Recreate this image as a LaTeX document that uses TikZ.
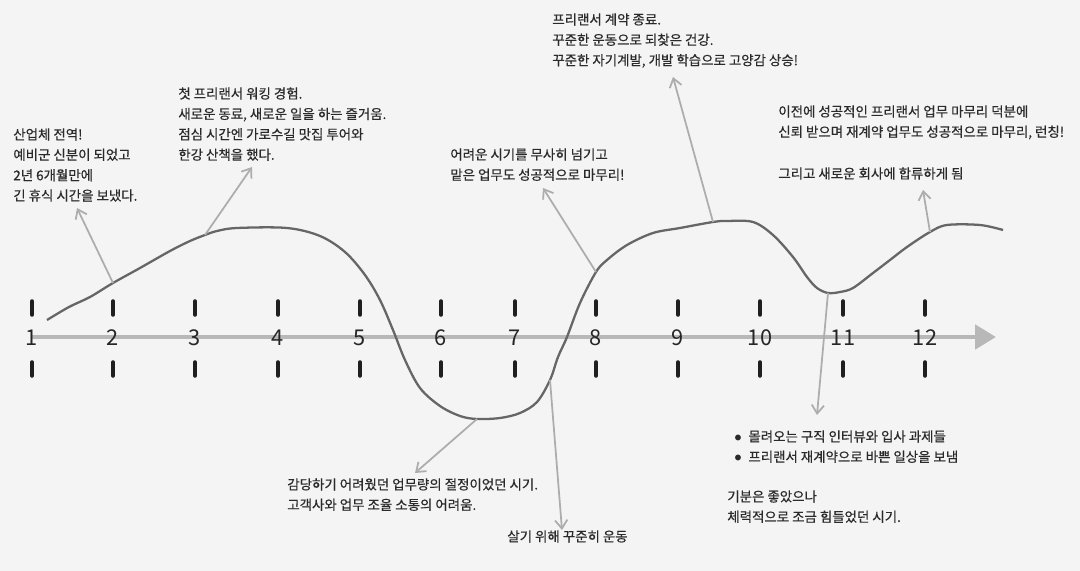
\documentclass[tikz,border=0pt]{standalone}
\usepackage{fontspec}
\setmainfont{Noto Sans CJK KR}
\newfontfamily\notefont{Noto Sans CJK KR}[FakeBold=0.5]
\usepackage{tikz}
\usetikzlibrary{arrows.meta}
\definecolor{paper}{HTML}{F4F4F4}
\definecolor{inkgray}{HTML}{2A2A2A}
\colorlet{curvegray}{black!60}
\colorlet{pointgray}{black!32}
\colorlet{axisgray}{black!28}

\begin{document}
\begin{tikzpicture}[x=0.02cm, y=-0.02cm, >={Straight Barb[length=4.8pt,width=7pt]},
    note/.style={anchor=north west, inner sep=0pt, align=left, text=inkgray,
      font=\notefont\fontsize{7.65pt}{11.6pt}\selectfont},
    month/.style={inner sep=0pt, text=black!85, font=\fontsize{12.4pt}{14pt}\selectfont},
    tickmark/.style={draw=black!88, line width=2pt, line cap=round},
    pointer/.style={draw=pointgray, line width=1pt, ->},
    lifeline/.style={draw=curvegray, line width=1.3pt, line join=round}]

    \fill[paper] (0,0) rectangle (1080,571);
    \useasboundingbox (0,0) rectangle (1080,571);

    \draw[axisgray, line width=2.8pt, -{Triangle[length=11.9pt,width=13.6pt]}] (32,337) -- (996,337);
    \foreach \x/\m in {32/1, 113/2, 195/3, 278/4, 360/5, 441/6, 515/7, 596/8, 678/9, 760/10, 843/11, 925/12} {
      \draw[tickmark] (\x,301) -- (\x,315);
      \draw[tickmark] (\x,362) -- (\x,376);
      \node[month] (m\m) at (\x,338) {\m};
    }

    \draw[lifeline] plot[smooth, tension=0.55] coordinates {
      (47,320) (69,307) (90,297) (113,283) (140,268) (170,251) (190,241) (205,235)
      (217,231) (237,228) (287,228) (320,236) (345,252) (365,275) (380,300) (393,330)
      (405,360) (420,388) (440,406) (460,416) (477,419) (500,418) (520,413) (537,402)
      (550,380) (558,357) (567,337) (580,303) (596,272) (607,260) (627,245) (653,233)
      (680,228) (713,222) (727,221) (753,222) (773,235) (793,257) (807,277) (817,288)
      (828,293) (840,292) (853,288) (873,273) (890,260) (907,247) (930,232) (947,225)
      (980,225) (1003,230)};

    \coordinate (p2) at (113,283);
    \coordinate (p3) at (205,235);
    \coordinate (p6) at (477,419);
    \coordinate (p7) at (550,380);
    \coordinate (p8) at (596,272);
    \coordinate (p9) at (713,222);
    \coordinate (p11) at (828,293);
    \coordinate (p12) at (930,232);

    \coordinate (t2) at (77,208);
    \coordinate (t3) at (252,167);
    \coordinate (t6) at (415,473);
    \coordinate (t7) at (562,530);
    \coordinate (t8) at (543,188);
    \coordinate (t9) at (673,77);
    \coordinate (t11) at (817,415);
    \coordinate (t12) at (923,190);

    \foreach \k in {2,3,6,7,8,9,11,12}
      \draw[pointer] (p\k) -- (t\k);

    \node[note] (note2) at (13,128) {산업체 전역!\\예비군 신분이 되었고\\2년 6개월만에\\긴 휴식 시간을 보냈다.};
    \node[note] (note3) at (178,87) {첫 프리랜서 워킹 경험.\\새로운 동료, 새로운 일을 하는 즐거움.\\점심 시간엔 가로수길 맛집 투어와\\한강 산책을 했다.};
    \node[note] (note8) at (450,148) {어려운 시기를 무사히 넘기고\\맡은 업무도 성공적으로 마무리!};
    \node[note] (note9) at (552,13) {프리랜서 계약 종료.\\꾸준한 운동으로 되찾은 건강.\\꾸준한 자기계발, 개발 학습으로 고양감 상승!};
    \node[note] (note12) at (778,105) {이전에 성공적인 프리랜서 업무 마무리 덕분에\\신뢰 받으며 재계약 업무도 성공적으로 마무리, 런칭!};
    \node[note] (note12b) at (778,167) {그리고 새로운 회사에 합류하게 됨};
    \node[note] (note6) at (287,478) {감당하기 어려웠던 업무량의 절정이었던 시기.\\고객사와 업무 조율 소통의 어려움.};
    \node[note] (note7) at (507,530) {살기 위해 꾸준히 운동};
    \node[note] (note11) at (734,430) {\makebox[8pt][l]{$\bullet$}몰려오는 구직 인터뷰와 입사 과제들\\\makebox[8pt][l]{$\bullet$}프리랜서 재계약으로 바쁜 일상을 보냄};
    \node[note] (note11b) at (727,490) {기분은 좋았으나\\체력적으로 조금 힘들었던 시기.};
  \end{tikzpicture}
\end{document}
